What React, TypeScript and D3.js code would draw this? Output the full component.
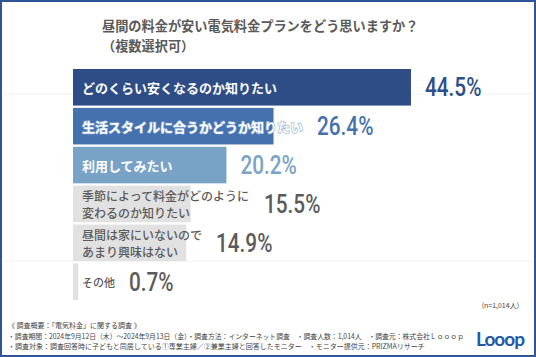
import React from "react";
import * as d3 from "d3";

const W = 536;
const H = 357;

const titleLines = ["昼間の料金が安い電気料金プランをどう思いますか？", "（複数選択可）"];
const categories = [
  "どのくらい安くなるのか知りたい",
  "生活スタイルに合うかどうか知りたい",
  "利用してみたい",
  "季節によって料金がどのように\n変わるのか知りたい",
  "昼間は家にいないので\nあまり興味はない",
  "その他",
];
const values = [44.5, 26.4, 20.2, 15.5, 14.9, 0.7];
const barColors = ["#2e4d86", "#4571ae", "#79a2c7", "#e1e1e1", "#e1e1e1", "#e1e1e1"];
const valueColors = ["#2e4d86", "#4571ae", "#79a2c7", "#5b5b5b", "#5b5b5b", "#5b5b5b"];
const labelColors = ["#ffffff", "#ffffff", "#ffffff", "#5b5b5b", "#5b5b5b", "#5b5b5b"];
const labelSizes = [13, 13, 13, 12, 12, 11];
const sampleNote = "(n=1,014人)";
const footerLines = [
  "《 調査概要：「電気料金」に関する調査 》",
  "・調査期間：2024年9月12日（木）～2024年9月13日（金）・調査方法：インターネット調査　・調査人数：1,014人　・調査元：株式会社Ｌｏｏｏｐ",
  "・調査対象：調査回答時に子どもと同居している①専業主婦／②兼業主婦と回答したモニター　・モニター提供元：PRIZMAリサーチ",
];
const footerWidths = [0, 456, 0];
const logoText = "Looop";

const JP = "'Noto Sans CJK JP', 'Noto Sans', sans-serif";
const NUM = "Roboto, 'Noto Sans', sans-serif";

export default function App() {
  const x = d3.scaleLinear().domain([0, 44.5]).range([73, 411]);
  const y = d3
    .scaleBand<string>()
    .domain(categories)
    .range([69, 300])
    .paddingInner(0.06)
    .paddingOuter(0);
  const bw = y.bandwidth();
  const textX = 82;

  return (
    <svg
      width={W}
      height={H}
      style={{ position: "absolute", left: 0, top: 0, background: "#fff" }}
    >
      <rect x={0} y={0} width={W} height={H} fill="#ffffff" />
      <line x1={3} x2={533} y1={94} y2={94} stroke="#f2f2f2" strokeWidth={1} />
      <line x1={3} x2={533} y1={261} y2={261} stroke="#f2f2f2" strokeWidth={1} />

      {titleLines.map((t, i) => (
        <text
          key={i}
          x={102}
          y={25 + i * 20.5}
          dominantBaseline="central"
          fontFamily={JP}
          fontWeight={700}
          fontSize={13.2}
          fill="#5a5a5a"
        >
          {t}
        </text>
      ))}

      {categories.map((c, i) => {
        const y0 = y(c) as number;
        const lines = c.split("\n");
        const fs = labelSizes[i];
        const maxChars = d3.max(lines, (l) => l.length) as number;
        const textEnd = textX + maxChars * fs;
        const barEnd = x(values[i]);
        const vx = Math.max(barEnd, textEnd) + 14;
        const cy = y0 + bw / 2;
        const lh = 16.5;
        return (
          <g key={c}>
            <rect x={x(0)} y={y0} width={barEnd - x(0)} height={bw} fill={barColors[i]} />
            {lines.map((l, j) => (
              <text
                key={j}
                x={textX}
                y={cy + (j - (lines.length - 1) / 2) * lh}
                dominantBaseline="central"
                fontFamily={JP}
                fontWeight={i < 3 ? 700 : 500}
                fontSize={fs}
                fill={labelColors[i]}
                stroke={i === 1 ? "#8eaed6" : "none"}
                strokeWidth={i === 1 ? 1.2 : 0}
                style={{ paintOrder: "stroke" }}
              >
                {l}
              </text>
            ))}
            <g transform={`translate(${vx},${cy + 1}) scale(0.83,1)`}>
              <text
                x={0}
                y={0}
                dominantBaseline="central"
                fontFamily={NUM}
                fontWeight={500}
                fontSize={25}
                fill={valueColors[i]}
              >
                {values[i].toFixed(1)}%
              </text>
            </g>
          </g>
        );
      })}

      <text
        x={519}
        y={305}
        textAnchor="end"
        dominantBaseline="central"
        fontFamily={JP}
        fontSize={7}
        fill="#444"
      >
        {sampleNote}
      </text>

      {footerLines.map((t, i) => (
        <text
          key={i}
          x={8}
          y={325 + i * 10.5}
          dominantBaseline="central"
          fontFamily={JP}
          fontSize={7}
          fill="#444"
          textLength={footerWidths[i] || undefined}
          lengthAdjust={footerWidths[i] ? "spacingAndGlyphs" : undefined}
        >
          {t}
        </text>
      ))}

      <text
        x={500}
        y={338}
        textAnchor="middle"
        dominantBaseline="central"
        fontFamily="Lato, 'Open Sans', sans-serif"
        fontWeight={700}
        fontSize={19}
        letterSpacing={-1}
        fill="#1f5aa8"
      >
        {logoText}
      </text>

      <rect x={1} y={1} width={W - 2} height={H - 2} fill="none" stroke="#2f5597" strokeWidth={2} />
    </svg>
  );
}
